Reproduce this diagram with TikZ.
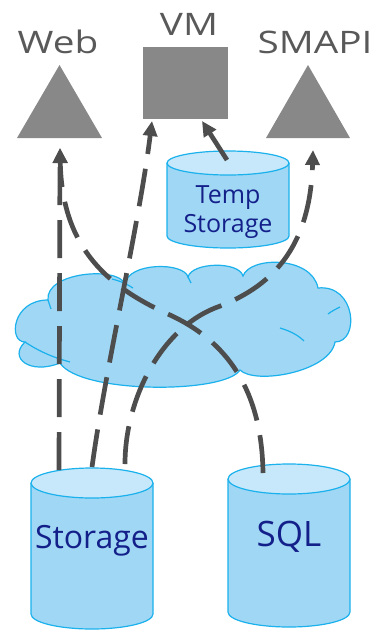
\documentclass[tikz,border=0pt]{standalone}
\usepackage{fontspec}
\setmainfont{Open Sans}
\usetikzlibrary{arrows.meta}

\definecolor{shapegrey}{HTML}{888888}
\definecolor{labelgrey}{HTML}{595959}
\definecolor{linkgrey}{HTML}{4D4D4D}
\definecolor{dbbody}{HTML}{A0D7F5}
\definecolor{dbtop}{HTML}{C6E8FA}
\definecolor{dbedge}{HTML}{1AB1EC}
\definecolor{dbtext}{HTML}{14208A}

% database drum: centre x, x radius, top ellipse y, bottom ellipse y, y radius
\newcommand\drawdrum[5]{%
  \fill[dbbody] (#1-#2,#3) -- (#1-#2,#4)
    arc[start angle=180,end angle=360,x radius=#2pt,y radius=#5pt] -- (#1+#2,#3) -- cycle;
  \draw[dbedge,line width=1.2pt] (#1-#2,#3) -- (#1-#2,#4)
    arc[start angle=180,end angle=360,x radius=#2pt,y radius=#5pt] -- (#1+#2,#3);
  \filldraw[fill=dbtop,draw=dbedge,line width=1.2pt] (#1,#3) ellipse[x radius=#2pt,y radius=#5pt];
}

\begin{document}
\begin{tikzpicture}[x=1pt,y=-1pt,
  toplabel/.style={text=labelgrey,font=\fontsize{31}{36}\selectfont,inner sep=0pt,anchor=base},
  dblabel/.style={text=dbtext,inner sep=0pt,anchor=base},
  roleshape/.style={fill=shapegrey},
  cloudedge/.style={draw=dbedge,line width=1.2pt},
  link/.style={draw=linkgrey,line width=4.7pt,dash pattern=on 38pt off 15pt,
    -{Triangle[length=15pt,width=14pt]}},
]
\useasboundingbox (0,0) rectangle (377,630);

% network cloud, one lobe per curve segment
\path[fill=dbbody,cloudedge]
  (25,342) .. controls (8,342) and (12,300) .. (48,300)
  .. controls (45,272) and (118,266) .. (125,284)
  .. controls (128,262) and (184,262) .. (188,277)
  .. controls (192,262) and (239,261) .. (243,276)
  .. controls (250,256) and (312,256) .. (318,288)
  .. controls (356,284) and (360,342) .. (335,342)
  .. controls (330,372) and (255,385) .. (240,370)
  .. controls (225,394) and (80,394) .. (60,363)
  .. controls (30,375) and (8,358) .. (25,342) -- cycle;
% inner strokes where lobes overlap
\draw[cloudedge] (48,300) .. controls (49,303) and (50,306) .. (51,309);
\draw[cloudedge] (112,279) .. controls (120,281) and (127,284) .. (133,288);
\draw[cloudedge] (25,342) .. controls (40,352) and (55,358) .. (70,362);
\draw[cloudedge] (280,328) .. controls (290,331) and (298,335) .. (304,341);
\draw[cloudedge] (328,314) .. controls (332,311) and (336,309) .. (340,307);
\draw[cloudedge] (188,277) .. controls (189,279) and (190,281) .. (191,283);

% roles
\fill[roleshape] (17,138) -- (102,138) -- (59.5,65) -- cycle;
\fill[roleshape] (143,47) rectangle (228,119);
\fill[roleshape] (266,138) -- (350,138) -- (308,65) -- cycle;
\node[toplabel] (web) at (58,53) {\scalebox{1.25}[1]{Web}};
\node[toplabel] (vm) at (189,35) {\scalebox{1.25}[1]{VM}};
\node[toplabel] (smapi) at (315,53) {\scalebox{1.25}[1]{SMAPI}};

% storage drums
\drawdrum{228}{61}{163}{236}{12}
\drawdrum{92}{61}{483}{614}{15}
\drawdrum{289}{61}{479}{612}{15}
\node[dblabel,font=\fontsize{25}{29}\selectfont] (temp1) at (228,203) {Temp};
\node[dblabel,font=\fontsize{25}{29}\selectfont] (temp2) at (228,232) {Storage};
\node[dblabel,font=\fontsize{32}{36}\selectfont] (stor) at (92,548) {Storage};
\node[dblabel,font=\fontsize{35}{40}\selectfont] (sql) at (289,546) {SQL};

% connector ends
\coordinate (webtip) at (60,148);
\coordinate (vmtipL) at (152,121);
\coordinate (vmtipR) at (202,121);
\coordinate (smapitip) at (313,150);
\coordinate (storA) at (59,470);
\coordinate (storB) at (92,467);
\coordinate (storC) at (125,464);
\coordinate (sqlA) at (263,473);
\coordinate (tempA) at (227,160);

% connectors
\draw[link] (storA) -- (webtip);
\draw[link] (sqlA) .. controls (262,400) and (235,345) .. (170,315)
  .. controls (110,288) and (62,250) .. (webtip);
\draw[link] (storB) .. controls (106,365) and (139,225) .. (vmtipL);
\draw[link] (storC) .. controls (125,400) and (160,330) .. (215,308)
  .. controls (270,288) and (310,250) .. (smapitip);
\draw[link,solid] (tempA) -- (vmtipR);
\end{tikzpicture}
\end{document}
